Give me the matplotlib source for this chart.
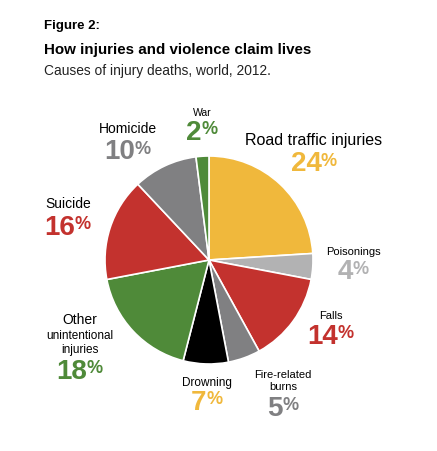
import matplotlib
matplotlib.use('Agg')
import matplotlib.pyplot as plt

# data
causes = ['Road traffic injuries', 'Poisonings', 'Falls', 'Fire-related\nburns', 'Drowning',
          'Other\nunintentional\ninjuries', 'Suicide', 'Homicide', 'War']
shares = [24, 4, 14, 5, 7, 18, 16, 10, 2]
colors = ['#F0B83C', '#B2B2B3', '#C3322E', '#808082', '#000000',
          '#4F8A39', '#C3322E', '#808082', '#4F8A39']
pct_colors = ['#F0B83C', '#B2B2B3', '#C3322E', '#808082', '#F0B83C',
              '#4F8A39', '#C3322E', '#808082', '#4F8A39']

W, H = 437, 452
fig = plt.figure(figsize=(W / 100, H / 100), dpi=100)
ax = fig.add_axes([0, 0, 1, 1])

FONT = ['Liberation Sans', 'DejaVu Sans']

ax.pie(shares, colors=colors, startangle=90, counterclock=False,
       center=(209, H - 261), radius=104,
       wedgeprops=dict(edgecolor='white', linewidth=1.2))
ax.set_xlim(0, W)
ax.set_ylim(0, H)
ax.set_aspect('equal')
ax.axis('off')

# label positions in pixels (x, y of name, y of percent)
label_pos = [(314, 140, 164), (353, 252, 272), (331, 316, 337), (283, 381, 409),
             (207, 383, 403), (80, 336, 372), (68, 204, 228), (128, 129, 152), (202, 113, 133)]
name_size = [11.5, 8, 8, 8, 8.5, 8.5, 10, 10, 7.5]

for name, val, pc, (lx, ly, py), ns in zip(causes, shares, pct_colors, label_pos, name_size):
    if name.startswith('Other'):
        ax.text(lx, H - 320, 'Other', fontsize=10, family=FONT, ha='center', va='center')
        ax.text(lx, H - 343, 'unintentional\ninjuries', fontsize=ns, family=FONT,
                ha='center', va='center', linespacing=1.3)
    else:
        ax.text(lx, H - ly, name, fontsize=ns, family=FONT, ha='center', va='center',
                linespacing=1.3)
    t1 = ax.text(lx, H - py, str(val), fontsize=20, family=FONT, weight='bold',
                 color=pc, ha='right', va='center')
    t2 = ax.text(lx, H - py + 3, '%', fontsize=13, family=FONT, weight='bold',
                 color=pc, ha='left', va='center')
    t1._pair = (t2, lx)

# center number + % pairs
fig.canvas.draw()
r = fig.canvas.get_renderer()
for t in ax.texts:
    if hasattr(t, '_pair'):
        t2, lx = t._pair
        w1 = t.get_window_extent(r).width
        w2 = t2.get_window_extent(r).width
        shift = (w1 - w2) / 2
        x0, y0 = t.get_position()
        t.set_position((lx + shift, y0))
        x2, y2 = t2.get_position()
        t2.set_position((lx + shift - 0.5, y2))

fig.text(44 / W, 1 - 26 / H, 'Figure 2:', fontsize=9.5, family=FONT, weight='bold', va='center')
fig.text(44 / W, 1 - 50 / H, 'How injuries and violence claim lives', fontsize=10.9,
         family=FONT, weight='bold', va='center')
fig.text(44 / W, 1 - 71 / H, 'Causes of injury deaths, world, 2012.', fontsize=9.9,
         family=FONT, va='center', color='#222222')

fig.savefig('out.png', dpi=100)
